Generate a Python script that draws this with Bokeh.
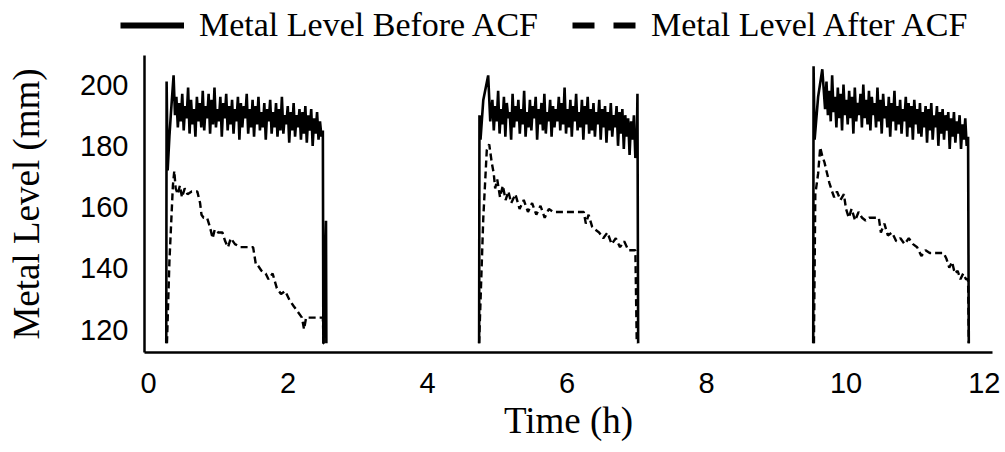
import numpy as np
from bokeh.plotting import figure
from bokeh.layouts import column
from bokeh.models import Legend, LegendItem, FixedTicker, Range1d
from bokeh.embed import file_html
from bokeh.resources import INLINE

# ---------------- data ----------------
x_ticks = [0, 2, 4, 6, 8, 10, 12]
y_ticks = [120, 140, 160, 180, 200]

# Metal level before ACF (solid) -- three casting cycles
before1_head_t = [0.255, 0.26, 0.275, 0.30, 0.32, 0.36, 0.38]
before1_head_v = [115.5, 201, 172, 183, 190, 203, 190]
before1_noise = [196, 186, 194, 188, 197, 185, 193, 189, 199, 184, 195, 187, 192, 183, 196, 188, 194, 186, 198, 185,
                 193, 189, 197, 184, 195, 187, 199, 186, 192, 188, 196, 183, 194, 189, 197, 185, 193, 187, 195, 184,
                 192, 188, 196, 182, 194, 186, 193, 189, 197, 184, 192, 186, 195, 183, 193, 187, 196, 185, 191, 186,
                 194, 182, 192, 188, 195, 184, 191, 186, 194, 183, 192, 185, 196, 184, 190, 187, 193, 181, 191, 185,
                 194, 183, 190, 186, 192, 182, 191, 184, 193, 181, 190, 185, 192, 180, 189, 184, 191, 182, 188, 183]
before1_noise_span = [0.40, 2.48]
before1_tail_t = [2.50, 2.507, 2.51, 2.545, 2.55]
before1_tail_v = [185, 115.5, 115.5, 155.5, 115.5]

before2_head_t = [4.74, 4.745, 4.76, 4.80, 4.87, 4.90]
before2_head_v = [115.5, 190, 182, 195, 203, 188]
before2_noise = [195, 185, 193, 188, 198, 184, 192, 187, 196, 183, 194, 189, 191, 182, 197, 186, 193, 188, 195, 184,
                 192, 187, 198, 183, 191, 186, 195, 185, 193, 189, 196, 182, 192, 187, 194, 185, 197, 184, 191, 188,
                 195, 183, 193, 186, 192, 188, 196, 185, 194, 187, 199, 184, 192, 186, 195, 183, 193, 188, 197, 185,
                 191, 186, 195, 182, 193, 187, 196, 184, 192, 185, 194, 183, 191, 187, 195, 182, 192, 186, 193, 181,
                 191, 185, 194, 183, 190, 186, 193, 180, 191, 184, 192, 179, 190, 183, 189, 177, 188, 182, 190, 176]
before2_noise_span = [4.93, 6.98]
before2_tail_t = [7.00, 7.01, 7.02]
before2_tail_v = [180, 197, 115.5]

before3_head_t = [9.53, 9.535, 9.55, 9.60, 9.66, 9.70]
before3_head_v = [115.5, 206, 182, 196, 205, 192]
before3_noise = [201, 190, 198, 188, 203, 191, 196, 186, 199, 189, 197, 185, 200, 190, 195, 187, 198, 189, 196, 184,
                 199, 188, 194, 190, 197, 186, 200, 189, 195, 187, 198, 185, 196, 190, 194, 186, 199, 188, 195, 184,
                 197, 189, 193, 186, 196, 183, 194, 188, 198, 185, 193, 187, 195, 184, 192, 188, 196, 183, 194, 186,
                 193, 182, 195, 187, 192, 184, 194, 183, 191, 186, 193, 181, 192, 185, 194, 182, 190, 186, 193, 180,
                 191, 184, 192, 182, 190, 185, 191, 179, 189, 183, 191, 181, 188, 184, 190, 179, 187, 182, 189, 180]
before3_noise_span = [9.72, 11.73]
before3_tail_t = [11.75, 11.76]
before3_tail_v = [183, 115.5]

# Metal level after ACF (dashed)
after1_t = [0.265, 0.30, 0.35, 0.37, 0.39, 0.42, 0.45, 0.48, 0.52, 0.56, 0.62, 0.70, 0.74, 0.76, 0.79, 0.84, 0.88,
            0.92, 0.95, 1.00, 1.06, 1.10, 1.14, 1.18, 1.24, 1.32, 1.42, 1.50, 1.54, 1.56, 1.62, 1.68, 1.72, 1.78,
            1.84, 1.90, 1.96, 2.02, 2.08, 2.14, 2.20, 2.23, 2.26, 2.30, 2.40, 2.50, 2.51]
after1_v = [115.5, 142.1, 167.0, 171.8, 166.1, 164.2, 167.0, 163.2, 166.1, 164.2, 165.1, 165.1, 161.3, 157.5,
            156.5, 156.5, 153.6, 149.8, 152.7, 151.7, 151.7, 148.8, 146.9, 149.8, 147.9, 146.9, 146.9, 146.9,
            141.2, 141.2, 139.2, 138.3, 136.4, 138.3, 133.5, 131.6, 132.6, 129.7, 127.7, 125.8, 123.9, 120.1,
            123.9, 123.9, 123.9, 123.9, 115.5]
after2_t = [4.74, 4.80, 4.85, 4.885, 4.92, 4.95, 4.97, 5.00, 5.04, 5.08, 5.12, 5.16, 5.20, 5.26, 5.32, 5.38, 5.44,
            5.50, 5.56, 5.62, 5.68, 5.74, 5.80, 5.86, 5.95, 6.10, 6.24, 6.27, 6.31, 6.36, 6.40, 6.46, 6.52, 6.58,
            6.64, 6.70, 6.76, 6.82, 6.88, 6.98, 7.00]
after2_v = [115.5, 156.5, 178.6, 180.5, 174.7, 170.9, 166.1, 169.0, 163.2, 167.0, 162.3, 165.1, 161.3, 164.2,
            159.4, 162.3, 158.4, 161.3, 157.5, 160.4, 156.5, 159.4, 158.4, 158.4, 158.4, 158.4, 158.4, 154.6,
            157.5, 153.6, 152.7, 151.7, 149.8, 151.7, 147.9, 149.8, 146.9, 148.8, 145.9, 145.9, 115.5]
after3_t = [9.54, 9.56, 9.60, 9.63, 9.66, 9.69, 9.72, 9.76, 9.80, 9.83, 9.87, 9.92, 9.97, 10.00, 10.04, 10.08,
            10.13, 10.18, 10.23, 10.28, 10.33, 10.40, 10.47, 10.50, 10.55, 10.60, 10.66, 10.72, 10.78, 10.84,
            10.90, 10.96, 11.02, 11.08, 11.14, 11.20, 11.30, 11.40, 11.44, 11.48, 11.52, 11.56, 11.60, 11.64,
            11.68, 11.72, 11.75, 11.76]
after3_v = [115.5, 164.2, 170.9, 179.5, 176.6, 174.7, 171.8, 168.0, 165.1, 163.2, 165.1, 162.3, 164.2, 159.4,
            156.5, 159.4, 155.6, 158.4, 156.5, 155.6, 156.5, 156.5, 156.5, 151.7, 154.6, 150.7, 151.7, 148.8,
            149.8, 147.9, 149.8, 147.9, 146.9, 144.0, 145.9, 145.0, 145.0, 145.0, 143.1, 140.2, 142.1, 138.3,
            139.2, 136.4, 138.3, 136.4, 136.4, 115.5]

# ---------------- assemble ----------------
def cycle(head_t, head_v, noise, span, tail_t, tail_v):
    nt = np.linspace(span[0], span[1], len(noise))
    return list(head_t) + list(nt) + list(tail_t), list(head_v) + list(noise) + list(tail_v)

bt, bv = [], []
for args in [(before1_head_t, before1_head_v, before1_noise, before1_noise_span, before1_tail_t, before1_tail_v),
             (before2_head_t, before2_head_v, before2_noise, before2_noise_span, before2_tail_t, before2_tail_v),
             (before3_head_t, before3_head_v, before3_noise, before3_noise_span, before3_tail_t, before3_tail_v)]:
    t, v = cycle(*args)
    bt += t + [np.nan]
    bv += v + [np.nan]

at, av = [], []
for t, v in [(after1_t, after1_v), (after2_t, after2_v), (after3_t, after3_v)]:
    at += t + [np.nan]
    av += v + [np.nan]

# ---------------- header with legend ----------------
hdr = figure(width=1000, height=47, output_backend="svg", toolbar_location=None,
             x_range=Range1d(0, 1), y_range=Range1d(0, 1),
             x_axis_location=None, y_axis_location=None,
             min_border_left=0, min_border_right=0, min_border_top=0, min_border_bottom=0)
hdr.frame_align = False
hdr.outline_line_color = None
hdr.grid.visible = False
# legend proxies: same series, lying outside this header's view
r1 = hdr.line(bt, bv, line_color="black", line_width=6)
r2 = hdr.line(at, av, line_color="black", line_width=6, line_dash="22 19")
legend = Legend(items=[LegendItem(label="Metal Level Before ACF", renderers=[r1]),
                       LegendItem(label="Metal Level After ACF", renderers=[r2])],
                orientation="horizontal", location=(120, 3),
                label_text_font="Liberation Serif", label_text_font_size="34px",
                label_text_color="black",
                glyph_width=64, glyph_height=20, label_standoff=15, spacing=34,
                padding=0, margin=0, border_line_color=None, background_fill_alpha=0)
hdr.add_layout(legend)

# ---------------- main plot ----------------
p = figure(width=1000, height=398, output_backend="svg", toolbar_location=None,
           x_range=Range1d(-0.057, 12.1), y_range=Range1d(112.5, 209.5),
           min_border_left=144, min_border_right=8, min_border_top=8, min_border_bottom=93)
p.frame_align = False
p.outline_line_color = None
p.grid.visible = False

p.line(bt, bv, line_color="black", line_width=2.6)
p.line(at, av, line_color="black", line_width=2.4, line_dash="7 4")

p.xaxis.ticker = FixedTicker(ticks=x_ticks)
p.yaxis.ticker = FixedTicker(ticks=y_ticks)
for ax in [p.xaxis[0], p.yaxis[0]]:
    ax.major_tick_line_color = None
    ax.minor_tick_line_color = None
    ax.axis_line_color = "black"
    ax.axis_line_width = 2.5
    ax.major_label_text_font = "Liberation Sans"
    ax.major_label_text_font_size = "29px"
    ax.major_label_text_color = "black"
    ax.axis_label_text_font = "Liberation Serif"
    ax.axis_label_text_font_size = "37px"
    ax.axis_label_text_font_style = "normal"
    ax.axis_label_text_color = "black"

p.xaxis.axis_label = "Time (h)"
p.yaxis.axis_label = "Metal Level (mm)"
p.xaxis.major_label_standoff = 14
p.yaxis.major_label_standoff = 10
p.xaxis.axis_label_standoff = 4
p.yaxis.axis_label_standoff = 30

layout = column(hdr, p, spacing=0)
open("out.html", "w").write(file_html(layout, INLINE))
